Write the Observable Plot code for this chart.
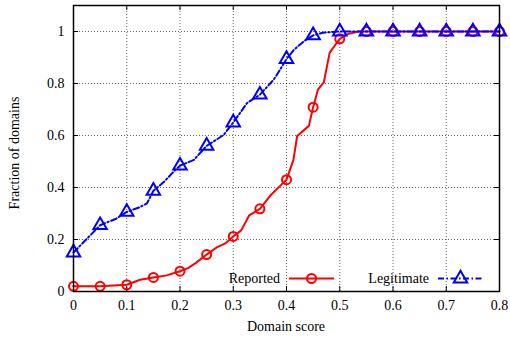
<!DOCTYPE html>
<html>
<head>
<meta charset="utf-8">
<script src="https://cdn.jsdelivr.net/npm/d3@7"></script>
<script src="https://cdn.jsdelivr.net/npm/@observablehq/plot@0.6"></script>
<style>
  html, body { margin: 0; padding: 0; background: #fff; }
  #chart { width: 510px; height: 339px; }
  #chart svg text { font-family: "Liberation Serif", "Times New Roman", "DejaVu Serif", serif !important; }
</style>
</head>
<body>
<div id="chart"></div>
<script>
// ---- Data ----
const reportedLineX = [0, 0.05, 0.1, 0.125, 0.15, 0.175, 0.2, 0.215, 0.23, 0.25, 0.27, 0.285, 0.3, 0.315, 0.33, 0.35, 0.37, 0.39, 0.4, 0.413, 0.42, 0.442, 0.45, 0.459, 0.47, 0.481, 0.492, 0.5, 0.515, 0.535, 0.55, 0.6, 0.65, 0.7, 0.75, 0.8];
const reportedLineY = [0.02, 0.02, 0.026, 0.045, 0.054, 0.062, 0.078, 0.09, 0.11, 0.142, 0.171, 0.185, 0.212, 0.235, 0.293, 0.318, 0.37, 0.41, 0.43, 0.506, 0.598, 0.637, 0.709, 0.776, 0.804, 0.918, 0.95, 0.972, 0.99, 1, 1, 1, 1, 1, 1, 1];

const legitLineX = [0, 0.05, 0.08, 0.1, 0.123, 0.138, 0.15, 0.17, 0.188, 0.2, 0.226, 0.25, 0.282, 0.3, 0.326, 0.35, 0.376, 0.386, 0.4, 0.414, 0.433, 0.45, 0.47, 0.5, 0.55, 0.6, 0.65, 0.7, 0.75, 0.8];
const legitLineY = [0.15, 0.255, 0.28, 0.306, 0.323, 0.339, 0.387, 0.422, 0.461, 0.484, 0.506, 0.56, 0.602, 0.65, 0.725, 0.757, 0.815, 0.847, 0.894, 0.93, 0.963, 0.985, 0.996, 1, 1, 1, 1, 1, 1, 1];

const markerX = [0, 0.05, 0.1, 0.15, 0.2, 0.25, 0.3, 0.35, 0.4, 0.45, 0.5, 0.55, 0.6, 0.65, 0.7, 0.75, 0.8];
const reportedMarkY = [0.02, 0.02, 0.026, 0.054, 0.078, 0.142, 0.212, 0.318, 0.43, 0.709, 0.972, 1, 1, 1, 1, 1, 1];
const legitMarkY = [0.15, 0.255, 0.306, 0.387, 0.484, 0.56, 0.65, 0.757, 0.894, 0.985, 1, 1, 1, 1, 1, 1, 1];

const xTicks = [0, 0.1, 0.2, 0.3, 0.4, 0.5, 0.6, 0.7, 0.8];
const xTickLabels = ["0", "0.1", "0.2", "0.3", "0.4", "0.5", "0.6", "0.7", "0.8"];
const yTicks = [0, 0.2, 0.4, 0.6, 0.8, 1];
const yTickLabels = ["0", "0.2", "0.4", "0.6", "0.8", "1"];

const seriesNames = ["Reported", "Legitimate"];
const seriesColors = ["#ff0000", "#0000ff"];
const xLabel = "Domain score";
const yLabel = "Fraction of domains";

// ---- Build tables ----
const reportedLine = reportedLineX.map((x, i) => ({x, y: reportedLineY[i]}));
const legitLine = legitLineX.map((x, i) => ({x, y: legitLineY[i]}));
const reportedMarks = markerX.map((x, i) => ({x, y: reportedMarkY[i]}));
const legitMarks = markerX.map((x, i) => ({x, y: legitMarkY[i]}));

const W = 510, H = 339;
const mL = 73, mR = 11, mT = 5, mB = 48;
const innerW = W - mL - mR, innerH = H - mT - mB;
const tk = 5; // inward tick length
const dashDot = "6,2.5,1.5,2.5";
const FONT = "'Liberation Serif', 'Times New Roman', serif";

// Axis titles (custom render mark, positioned relative to the frame)
function axisTitles(index, scales, values, dims) {
  const g = d3.create("svg:g").attr("font-family", FONT).attr("font-size", 14).attr("fill", "#000");
  const cx = dims.marginLeft + (dims.width - dims.marginLeft - dims.marginRight) / 2;
  const cy = dims.marginTop + (dims.height - dims.marginTop - dims.marginBottom) / 2;
  g.append("text").attr("x", cx).attr("y", dims.height - dims.marginBottom + 35)
    .attr("dy", "0.35em").attr("text-anchor", "middle").text(xLabel);
  g.append("text").attr("transform", `translate(${dims.marginLeft - 59},${cy + 5}) rotate(-90)`)
    .attr("dy", "0.35em").attr("text-anchor", "middle").text(yLabel);
  return g.node();
}

// Custom legend mark (inside the frame, bottom right)
function legendMark(index, scales, values, dims) {
  const g = d3.create("svg:g").attr("font-family", FONT).attr("font-size", 14);
  const yy = dims.height - dims.marginBottom - 12.5;
  const right = dims.width - dims.marginRight;
  const items = [
    {name: seriesNames[0], color: seriesColors[0], x0: right - 210, dash: null, sym: "circle"},
    {name: seriesNames[1], color: seriesColors[1], x0: right - 61, dash: dashDot, sym: "triangle"}
  ];
  for (const it of items) {
    g.append("text").attr("x", it.x0 - 9).attr("y", yy).attr("dy", "0.35em")
      .attr("text-anchor", "end").attr("fill", "#000").text(it.name);
    const ln = g.append("line").attr("x1", it.x0).attr("x2", it.x0 + 45)
      .attr("y1", yy).attr("y2", yy).attr("stroke", it.color).attr("stroke-width", 2);
    if (it.dash) ln.attr("stroke-dasharray", it.dash);
    const cx = it.x0 + 22.5;
    if (it.sym === "circle") {
      g.append("circle").attr("cx", cx).attr("cy", yy).attr("r", 4.5)
        .attr("fill", "none").attr("stroke", it.color).attr("stroke-width", 2);
    } else {
      g.append("path").attr("transform", `translate(${cx},${yy})`)
        .attr("d", d3.symbol(d3.symbolTriangle, Math.PI * 25)())
        .attr("fill", "none").attr("stroke", it.color).attr("stroke-width", 2);
    }
  }
  return g.node();
}

const chart = Plot.plot({
  width: W,
  height: H,
  marginLeft: mL,
  marginRight: mR,
  marginTop: mT,
  marginBottom: mB,
  style: {fontFamily: FONT, fontSize: "14px", background: "#fff", color: "#000"},
  x: {domain: [0, 0.8]},
  y: {domain: [0, 1.1]},
  marks: [
    // dotted grid
    Plot.ruleX(xTicks.slice(1, -1), {x: d => d, stroke: "#000", strokeOpacity: 0.6, strokeWidth: 1, strokeDasharray: "1,2"}),
    Plot.ruleY(yTicks.slice(1), {y: d => d, stroke: "#000", strokeOpacity: 0.6, strokeWidth: 1, strokeDasharray: "1,2"}),
    // inward ticks on all four sides
    Plot.ruleX(xTicks, {x: d => d, insetTop: innerH - tk, stroke: "#000"}),
    Plot.ruleX(xTicks, {x: d => d, insetBottom: innerH - tk, stroke: "#000"}),
    Plot.ruleY(yTicks, {y: d => d, insetRight: innerW - tk, stroke: "#000"}),
    Plot.ruleY(yTicks, {y: d => d, insetLeft: innerW - tk, stroke: "#000"}),
    // tick labels
    Plot.axisX(xTicks, {tickSize: 0, tickPadding: 9, tickFormat: (d, i) => xTickLabels[i], label: null, fontSize: 14}),
    Plot.axisY(yTicks, {tickSize: 0, tickPadding: 9, tickFormat: (d, i) => yTickLabels[i], label: null, fontSize: 14}),
    // axis titles
    axisTitles,
    // Reported series
    Plot.line(reportedLine, {x: "x", y: "y", stroke: seriesColors[0], strokeWidth: 2}),
    Plot.dot(reportedMarks, {x: "x", y: "y", r: 4.5, stroke: seriesColors[0], strokeWidth: 2, fill: "none"}),
    // Legitimate series
    Plot.line(legitLine, {x: "x", y: "y", stroke: seriesColors[1], strokeWidth: 2, strokeDasharray: dashDot}),
    Plot.dot(legitMarks, {x: "x", y: "y", r: 5, symbol: "triangle", stroke: seriesColors[1], strokeWidth: 2, fill: "none"}),
    // legend
    legendMark,
    // frame
    Plot.frame({stroke: "#000", strokeWidth: 1.5})
  ]
});
document.getElementById("chart").appendChild(chart);
</script>
</body>
</html>
